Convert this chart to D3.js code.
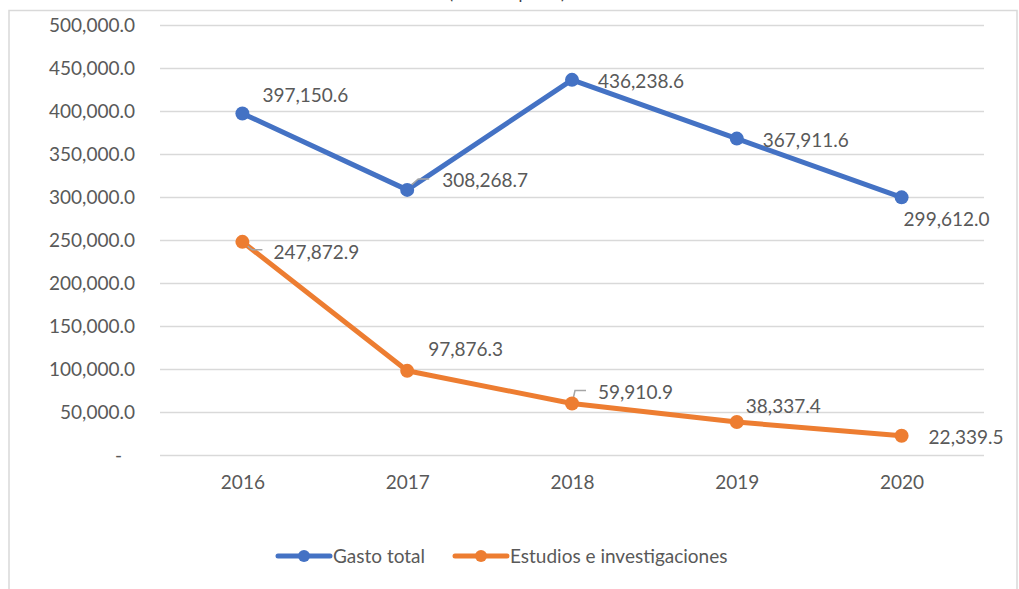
<!DOCTYPE html>
<html>
<head>
<meta charset="utf-8">
<script src="https://cdn.jsdelivr.net/npm/d3@7"></script>
<style>
  body { margin: 0; background: #fff; }
  svg { display: block; font-family: Lato, "Open Sans", sans-serif; }
</style>
</head>
<body>
<div id="chart"></div>
<script>
/**
 * DATA
 * */
const years = ["2016", "2017", "2018", "2019", "2020"];
const gastoTotal = [397150.6, 308268.7, 436238.6, 367911.6, 299612.0];
const estudios = [247872.9, 97876.3, 59910.9, 38337.4, 22339.5];
const yTicks = [0, 50000, 100000, 150000, 200000, 250000, 300000, 350000, 400000, 450000, 500000];
const seriesNames = ["Gasto total", "Estudios e investigaciones"];
const chartTitle = "(miles de pesos)";

/**
 * CONSTANTS
 * */
const width = 1019, height = 589;
const margin = { top: 25, bottom: 134, left: 160, right: 35 };
const colors = ["#4472C4", "#ED7D31"];
const textColor = "#595959";
const fontSize = "19px";

const svg = d3.select("#chart")
  .append("svg")
  .attr("width", width)
  .attr("height", height);

// chart frame (cut at the bottom of the picture)
svg.append("rect")
  .attr("x", 9).attr("y", 10.5)
  .attr("width", 1008).attr("height", 600)
  .attr("fill", "none")
  .attr("stroke", "#d9d9d9")
  .attr("stroke-width", 1.5);

// title, mostly above the top of the picture
svg.append("text")
  .attr("x", 507).attr("y", -1.5)
  .attr("text-anchor", "middle")
  .attr("fill", "#404040")
  .style("font-size", "17px")
  .text(chartTitle);

const x = d3.scalePoint()
  .domain(years)
  .range([margin.left, width - margin.right])
  .padding(0.5);

const y = d3.scaleLinear()
  .domain([0, 500000])
  .range([height - margin.bottom, margin.top]);

// y axis with gridlines
const fmt = d3.format(",.1f");
const yAxis = svg.append("g")
  .attr("transform", `translate(${margin.left},0)`)
  .call(d3.axisLeft(y)
    .tickValues(yTicks)
    .tickSize(-(width - margin.left - margin.right))
    .tickPadding(25)
    .tickFormat(d => d === 0 ? "-" : fmt(d)));
yAxis.select(".domain").remove();
yAxis.selectAll(".tick line").attr("stroke", "#d9d9d9").attr("stroke-width", 1.5);
yAxis.selectAll(".tick text")
  .attr("fill", textColor)
  .style("font-size", fontSize)
  .style("font-family", "Lato, sans-serif");
yAxis.selectAll(".tick text").filter(d => d === 0).attr("dx", -13);

// x axis labels
const xAxis = svg.append("g")
  .attr("transform", `translate(0,${height - margin.bottom})`)
  .call(d3.axisBottom(x).tickSize(0).tickPadding(21));
xAxis.select(".domain").remove();
xAxis.selectAll(".tick text")
  .attr("fill", textColor)
  .style("font-size", fontSize)
  .style("font-family", "Lato, sans-serif");

// lines
const line = d3.line().x((d, i) => x(years[i])).y(d => y(d));
const allSeries = [gastoTotal, estudios];

allSeries.forEach((vals, s) => {
  svg.append("path")
    .datum(vals)
    .attr("fill", "none")
    .attr("stroke", colors[s])
    .attr("stroke-width", 5)
    .attr("stroke-linejoin", "round")
    .attr("d", line);
});

// leader lines (drawn under the markers)
const leaders = [
  { s: 0, i: 1, pts: [[1, -2], [11, -11], [22, -11]] },
  { s: 1, i: 0, pts: [[1, 1], [10, 8], [20, 8]] },
  { s: 1, i: 2, pts: [[1, -4], [3, -13], [14, -13]] }
];
leaders.forEach(l => {
  const vals = allSeries[l.s];
  const px = x(years[l.i]), py = y(vals[l.i]);
  svg.append("polyline")
    .attr("points", l.pts.map(p => [px + p[0], py + p[1]].join(",")).join(" "))
    .attr("fill", "none")
    .attr("stroke", "#a6a6a6")
    .attr("stroke-width", 1.5);
});

allSeries.forEach((vals, s) => {
  svg.selectAll(null)
    .data(vals)
    .join("circle")
    .attr("cx", (d, i) => x(years[i]))
    .attr("cy", d => y(d))
    .attr("r", 7)
    .attr("fill", colors[s]);
});

// data labels, offsets from each point
const labelOffsets = [
  [[20, -11], [35, -3], [26, 8], [26, 8], [2, 29]],
  [[31, 17], [21, -15], [26, -4], [9, -9], [27, 8]]
];
allSeries.forEach((vals, s) => {
  svg.selectAll(null)
    .data(vals)
    .join("text")
    .attr("x", (d, i) => x(years[i]) + labelOffsets[s][i][0])
    .attr("y", (d, i) => y(d) + labelOffsets[s][i][1])
    .attr("fill", textColor)
    .style("font-size", fontSize)
    .text(d => fmt(d));
});

// legend
const legendX = [278, 455];
const legend = svg.selectAll("g.legend")
  .data(seriesNames)
  .join("g")
  .attr("class", "legend")
  .attr("transform", (d, i) => `translate(${legendX[i]},556)`);
legend.append("line")
  .attr("x1", 0).attr("x2", 52)
  .attr("stroke", (d, i) => colors[i])
  .attr("stroke-width", 5)
  .attr("stroke-linecap", "round");
legend.append("circle")
  .attr("cx", 26).attr("r", 6)
  .attr("fill", (d, i) => colors[i]);
legend.append("text")
  .attr("x", 55).attr("y", 6.5)
  .attr("fill", textColor)
  .style("font-size", fontSize)
  .text(d => d);
</script>
</body>
</html>
